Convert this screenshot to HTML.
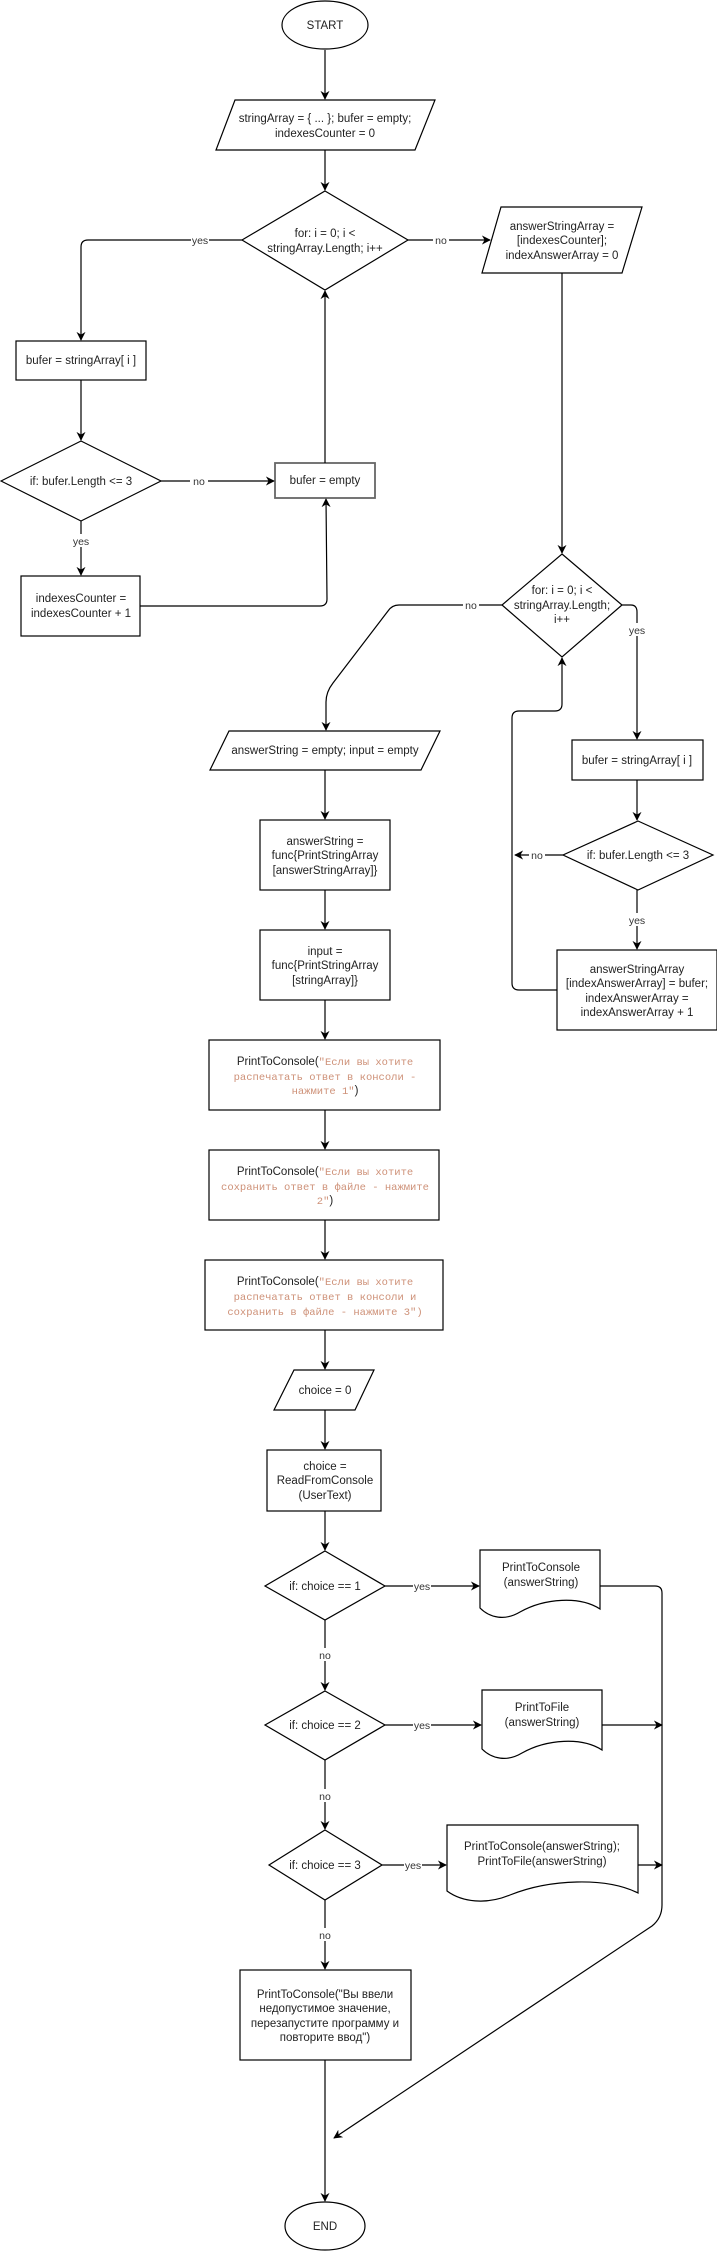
<!DOCTYPE html>
<html><head><meta charset="utf-8"><style>
html,body{margin:0;padding:0;background:#fff}
svg{display:block}
text{font-family:"Liberation Sans",Arial,sans-serif;font-size:11.5px;fill:#222}
.m{font-family:"Liberation Mono","DejaVu Sans Mono",monospace;font-size:10.5px;fill:#CE9178}
.l{font-size:10.5px;fill:#333}
</style></head><body>
<svg width="717" height="2251" viewBox="0 0 717 2251" xmlns="http://www.w3.org/2000/svg">
<defs><marker id="a" viewBox="0 0 10 10" refX="9" refY="5" markerWidth="9" markerHeight="9" orient="auto" markerUnits="userSpaceOnUse"><path d="M0,0 L10,5 L0,10 L3,5 z" fill="#000"/></marker></defs>
<g fill="none" stroke="#000" stroke-width="1.2">
<!-- shapes -->
<ellipse cx="325" cy="25" rx="43" ry="24" fill="#fff"/>
<polygon points="235,100 435,100 415,150 216,150" fill="#fff"/>
<polygon points="325,191 408,240 325,290 242,240" fill="#fff"/>
<rect x="16" y="341" width="130" height="39" fill="#fff"/>
<polygon points="81,441 161,481 81,521 1,481" fill="#fff"/>
<rect x="275" y="463" width="100" height="35" fill="#fff" stroke="#666" stroke-width="1.8"/>
<rect x="21" y="576" width="119" height="60" fill="#fff"/>
<polygon points="501,207 642,207 622,273 482,273" fill="#fff"/>
<polygon points="562,554 622,605 562,657 502,605" fill="#fff"/>
<polygon points="229,731 440,731 421,770 210,770" fill="#fff"/>
<rect x="260" y="820" width="130" height="70" fill="#fff"/>
<rect x="260" y="930" width="130" height="70" fill="#fff"/>
<rect x="209" y="1040" width="231" height="70" fill="#fff"/>
<rect x="572" y="740" width="131" height="40" fill="#fff"/>
<polygon points="638,821 713,855 638,890 563,855" fill="#fff"/>
<rect x="557" y="950" width="160" height="80" fill="#fff"/>
<rect x="209" y="1150" width="230" height="70" fill="#fff"/>
<rect x="205" y="1260" width="238" height="70" fill="#fff"/>
<polygon points="294,1370 374,1370 355,1410 274,1410" fill="#fff"/>
<rect x="267" y="1450" width="114" height="61" fill="#fff"/>
<polygon points="325,1551 385,1586 325,1620 265,1586" fill="#fff"/>
<path d="M480,1550 H600 V1609 C580,1596 545,1598 520,1612 C505,1621 490,1618 480,1608 Z" fill="#fff"/>
<polygon points="325,1691 385,1725 325,1760 265,1725" fill="#fff"/>
<path d="M482,1690 H602 V1750 C582,1737 547,1739 522,1753 C507,1762 492,1759 482,1749 Z" fill="#fff"/>
<polygon points="325,1830 382,1865 325,1900 269,1865" fill="#fff"/>
<path d="M447,1825 H638 V1893 C606,1877 550,1879 510,1895 C486,1905 462,1902 447,1891 Z" fill="#fff"/>
<rect x="240" y="1970" width="171" height="90" fill="#fff"/>
<ellipse cx="325" cy="2226" rx="40" ry="24" fill="#fff"/>
<!-- connectors -->
<path d="M325,50 V99" marker-end="url(#a)"/>
<path d="M325,150 V190" marker-end="url(#a)"/>
<path d="M242,240 H88 Q81,240 81,247 V340" marker-end="url(#a)"/>
<path d="M81,380 V440" marker-end="url(#a)"/>
<path d="M161,481 H274" marker-end="url(#a)"/>
<path d="M81,521 V575" marker-end="url(#a)"/>
<path d="M140,606 H320 Q327,606 327,599 L326,499" marker-end="url(#a)"/>
<path d="M325,463 V291" marker-end="url(#a)"/>
<path d="M408,240 H490" marker-end="url(#a)"/>
<path d="M562,273 V553" marker-end="url(#a)"/>
<path d="M502,605 H399 Q392,605 388,611 L333,683 Q326,692 326,702 V730" marker-end="url(#a)"/>
<path d="M622,605 H631 Q637,605 637,612 V739" marker-end="url(#a)"/>
<path d="M637,780 V820" marker-end="url(#a)"/>
<path d="M563,855 H515" marker-end="url(#a)"/>
<path d="M637,890 V949" marker-end="url(#a)"/>
<path d="M557,990 H519 Q512,990 512,983 V718 Q512,711 519,711 H555 Q562,711 562,704 V658" marker-end="url(#a)"/>
<path d="M325,770 V819" marker-end="url(#a)"/>
<path d="M325,890 V929" marker-end="url(#a)"/>
<path d="M325,1000 V1039" marker-end="url(#a)"/>
<path d="M325,1110 V1149" marker-end="url(#a)"/>
<path d="M325,1220 V1259" marker-end="url(#a)"/>
<path d="M325,1330 V1369" marker-end="url(#a)"/>
<path d="M325,1410 V1449" marker-end="url(#a)"/>
<path d="M325,1511 V1550" marker-end="url(#a)"/>
<path d="M385,1586 H479" marker-end="url(#a)"/>
<path d="M325,1620 V1690" marker-end="url(#a)"/>
<path d="M385,1725 H481" marker-end="url(#a)"/>
<path d="M325,1760 V1829" marker-end="url(#a)"/>
<path d="M382,1865 H446" marker-end="url(#a)"/>
<path d="M325,1900 V1969" marker-end="url(#a)"/>
<path d="M325,2060 V2201" marker-end="url(#a)"/>
<path d="M602,1725 H662" marker-end="url(#a)"/>
<path d="M638,1865 H662" marker-end="url(#a)"/>
<path d="M600,1586 H655 Q662,1586 662,1593 V1905 Q662,1918 652,1926 L334,2138" marker-end="url(#a)"/>
</g>
<!-- label backgrounds -->
<g fill="#fff">
<rect x="191" y="233" width="18" height="13"/><rect x="433" y="233" width="16" height="13"/>
<rect x="190" y="474" width="18" height="13"/><rect x="72" y="534" width="18" height="13"/>
<rect x="463" y="598" width="16" height="13"/><rect x="628" y="623" width="18" height="13"/>
<rect x="529" y="848" width="16" height="13"/><rect x="628" y="913" width="18" height="13"/>
<rect x="413" y="1579" width="18" height="13"/><rect x="317" y="1648" width="16" height="13"/>
<rect x="413" y="1718" width="18" height="13"/><rect x="317" y="1789" width="16" height="13"/>
<rect x="404" y="1858" width="18" height="13"/><rect x="317" y="1928" width="16" height="13"/>
</g>
<g text-anchor="middle">
<text class="l" x="200" y="244">yes</text><text class="l" x="441" y="244">no</text>
<text class="l" x="199" y="485">no</text><text class="l" x="81" y="545">yes</text>
<text class="l" x="471" y="609">no</text><text class="l" x="637" y="634">yes</text>
<text class="l" x="537" y="859">no</text><text class="l" x="637" y="924">yes</text>
<text class="l" x="422" y="1590">yes</text><text class="l" x="325" y="1659">no</text>
<text class="l" x="422" y="1729">yes</text><text class="l" x="325" y="1800">no</text>
<text class="l" x="413" y="1869">yes</text><text class="l" x="325" y="1939">no</text>

<text x="325" y="29">START</text>
<text x="325" y="122">stringArray = { ... }; bufer = empty;</text>
<text x="325" y="137">indexesCounter = 0</text>
<text x="325" y="237">for: i = 0; i &lt;</text>
<text x="325" y="252">stringArray.Length; i++</text>
<text x="81" y="364">bufer = stringArray[ i ]</text>
<text x="81" y="485">if: bufer.Length &lt;= 3</text>
<text x="325" y="484">bufer = empty</text>
<text x="81" y="602">indexesCounter =</text>
<text x="81" y="617">indexesCounter + 1</text>
<text x="562" y="230">answerStringArray =</text>
<text x="562" y="244">[indexesCounter];</text>
<text x="562" y="259">indexAnswerArray = 0</text>
<text x="562" y="594">for: i = 0; i &lt;</text>
<text x="562" y="609">stringArray.Length;</text>
<text x="562" y="623">i++</text>
<text x="325" y="754">answerString = empty; input = empty</text>
<text x="325" y="845">answerString =</text>
<text x="325" y="859">func{PrintStringArray</text>
<text x="325" y="874">[answerStringArray]}</text>
<text x="325" y="955">input =</text>
<text x="325" y="969">func{PrintStringArray</text>
<text x="325" y="984">[stringArray]}</text>
<text x="637" y="764">bufer = stringArray[ i ]</text>
<text x="638" y="859">if: bufer.Length &lt;= 3</text>
<text x="637" y="973">answerStringArray</text>
<text x="637" y="987">[indexAnswerArray] = bufer;</text>
<text x="637" y="1002">indexAnswerArray =</text>
<text x="637" y="1016">indexAnswerArray + 1</text>
<text x="325" y="1065">PrintToConsole(<tspan class="m">"Если вы хотите</tspan></text>
<text class="m" x="325" y="1080">распечатать ответ в консоли -</text>
<text x="325" y="1094"><tspan class="m">нажмите 1"</tspan>)</text>
<text x="325" y="1175">PrintToConsole(<tspan class="m">"Если вы хотите</tspan></text>
<text class="m" x="325" y="1190">сохранить ответ в файле - нажмите</text>
<text x="325" y="1204"><tspan class="m">2"</tspan>)</text>
<text x="325" y="1285">PrintToConsole(<tspan class="m">"Если вы хотите</tspan></text>
<text class="m" x="325" y="1300">распечатать ответ в консоли и</text>
<text class="m" x="325" y="1315">сохранить в файле - нажмите 3")</text>
<text x="325" y="1394">choice = 0</text>
<text x="325" y="1470">choice =</text>
<text x="325" y="1484">ReadFromConsole</text>
<text x="325" y="1499">(UserText)</text>
<text x="325" y="1590">if: choice == 1</text>
<text x="541" y="1571">PrintToConsole</text>
<text x="541" y="1586">(answerString)</text>
<text x="325" y="1729">if: choice == 2</text>
<text x="542" y="1711">PrintToFile</text>
<text x="542" y="1726">(answerString)</text>
<text x="325" y="1869">if: choice == 3</text>
<text x="542" y="1850">PrintToConsole(answerString);</text>
<text x="542" y="1865">PrintToFile(answerString)</text>
<text x="325" y="1998">PrintToConsole("Вы ввели</text>
<text x="325" y="2012">недопустимое значение,</text>
<text x="325" y="2027">перезапустите программу и</text>
<text x="325" y="2041">повторите ввод")</text>
<text x="325" y="2230">END</text>
</g>
</svg>
</body></html>
